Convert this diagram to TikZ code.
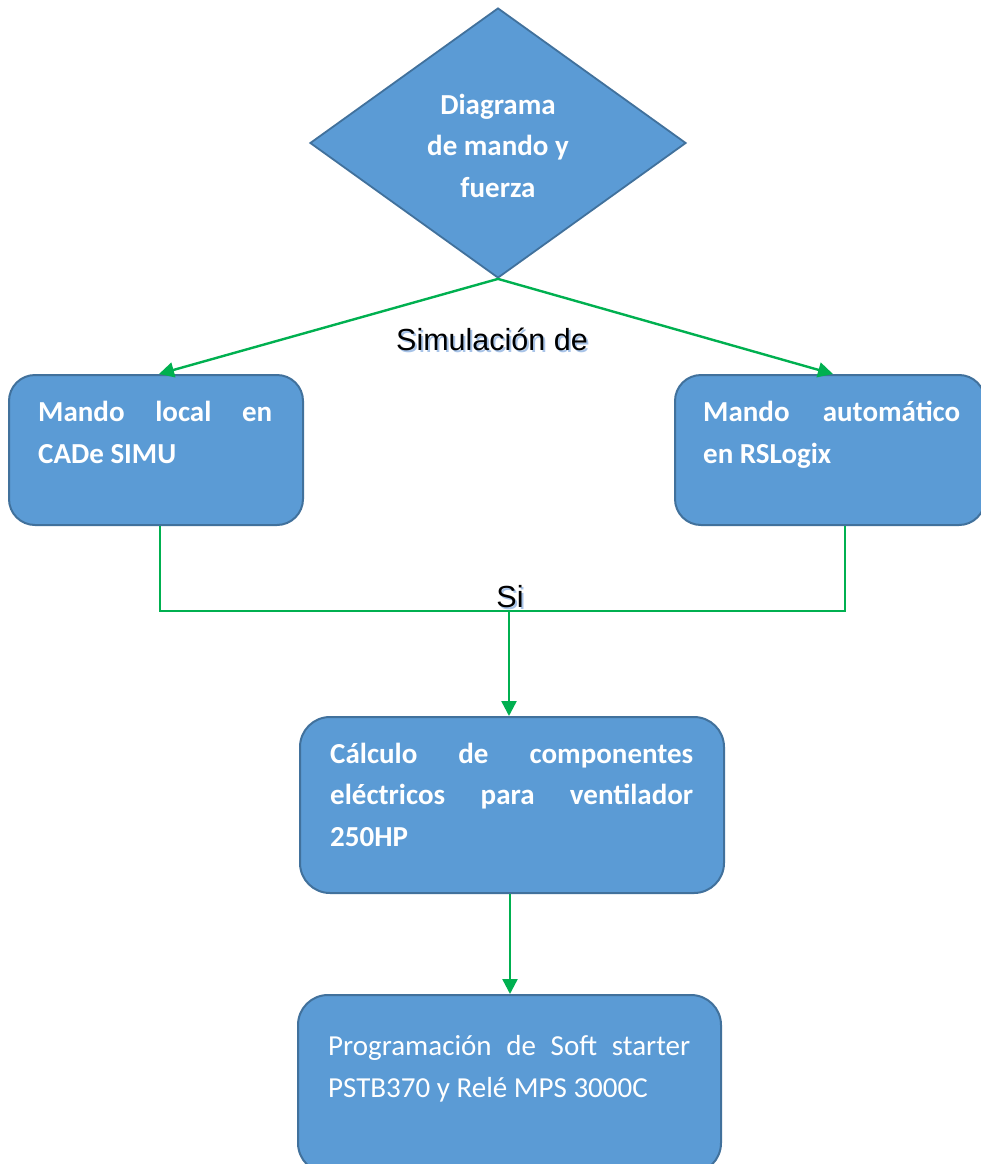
\documentclass[tikz,border=0pt]{standalone}
\usepackage{fontspec}
\setmainfont{Carlito}
\newfontfamily\arialf{Liberation Sans}
\usetikzlibrary{shapes.geometric,arrows.meta,calc}
\definecolor{boxfill}{HTML}{5B9BD5}
\definecolor{boxline}{HTML}{41719C}
\definecolor{linkgreen}{HTML}{00B050}
\definecolor{shadowblue}{HTML}{A7C3E8}
\begin{document}
\begin{tikzpicture}[x=1pt,y=-1pt,
  box/.style={draw=boxline, line width=2pt, fill=boxfill, rounded corners=26pt, anchor=north west, inner sep=0pt},
  boxtext/.style={text=white, font=\fontsize{29}{41.5}\selectfont\bfseries, align=left, anchor=base west, inner sep=0pt},
  plaintext/.style={text=white, font=\fontsize{29}{42}\selectfont, align=left, anchor=base west, inner sep=0pt},
  link/.style={draw=linkgreen, line width=2.4pt},
  arr/.style={link, -{Triangle[width=15pt,length=15pt]}},
  lbl/.style={font=\arialf\fontsize{30.5}{36}\selectfont, inner sep=0pt, anchor=base, text=black},
  lblshadow/.style={lbl, text=shadowblue}]
\useasboundingbox (0,0) rectangle (980,1164);
\fill[white] (0,0) rectangle (980,1164);

% shapes
\node[diamond, draw=boxline, fill=boxfill, line width=1.8pt, minimum width=376pt, minimum height=270pt, inner sep=0pt] (D) at (498,143) {};
\node[box, minimum width=294pt, minimum height=150pt] (L) at (8,374) {};
\node[box, minimum width=310pt, minimum height=150pt] (R) at (674,374) {};
\node[box, minimum width=424pt, minimum height=176pt, rounded corners=30pt] (C) at (299,716) {};
\node[box, minimum width=423pt, minimum height=178pt, rounded corners=30pt] (P) at (297,994) {};

% texts (base anchor = baseline of the last line)
\node[boxtext, align=center, anchor=base] (Dt) at (498,197) {Diagrama\\de mando y\\fuerza};
\node[boxtext] (Lt) at (38,463) {\hbox to 234pt{Mando\hfill local\hfill en}\\CADe SIMU};
\node[boxtext] (Rt) at (703,463) {\hbox to 257pt{Mando\hfill automático}\\en RSLogix};
\node[boxtext] (Ct) at (330,846) {\hbox to 363pt{Cálculo\hfill de\hfill componentes}\\\hbox to 363pt{eléctricos\hfill para\hfill ventilador}\\250HP};
\node[plaintext] (Pt) at (328,1097) {\hbox to 362pt{Programación\hfill de\hfill Soft\hfill starter}\\PSTB370 y Relé MPS 3000C};

% connectors
\coordinate (J) at (509,611);
\draw[arr] (D.south) -- ([xshift=3pt]L.north);
\draw[arr] (D.south) -- ([xshift=3pt]R.north);
\draw[link] ([xshift=4pt]L.south) |- (J) -| ([xshift=15pt]R.south);
\draw[arr] (J) -- (J |- C.north);
\draw[arr] ([xshift=-2pt]C.south) -- ([xshift=-2pt]C.south |- P.north);

% labels
\node[lblshadow] (Ssh) at (494,352) {Simulación de};
\node[lbl] (S) at (492,350) {Simulación de};
\node[lblshadow] (Sish) at (512,609) {Si};
\node[lbl] (Si) at (510,607) {Si};
\end{tikzpicture}
\end{document}
